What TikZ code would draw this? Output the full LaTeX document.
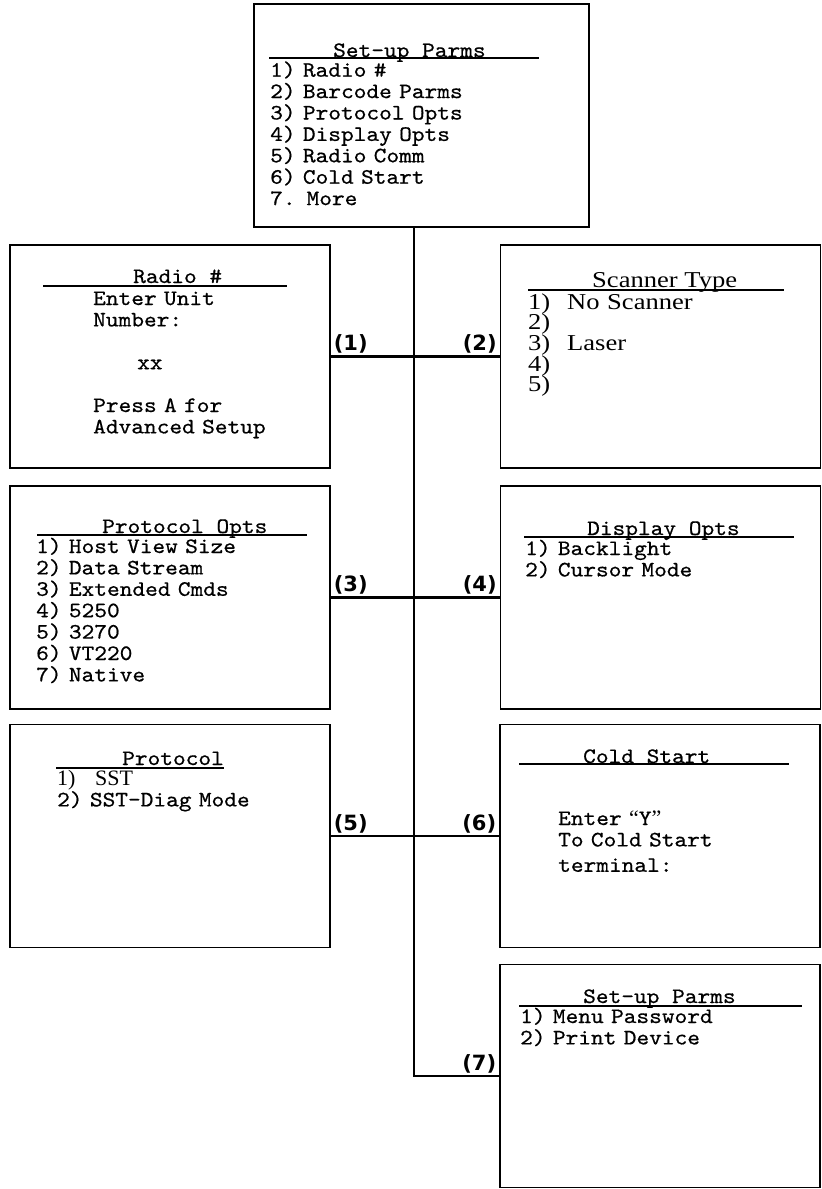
\documentclass[tikz,border=0pt]{standalone}
\usepackage{fontspec}
\newfontfamily\scrfont{lmmono10-regular.otf}[FakeStretch=1.1, FakeBold=0.6]
\newfontfamily\serfont{Liberation Serif}
\newfontfamily\widefont[FakeStretch=1.17]{Liberation Serif}
\newfontfamily\lblfont{DejaVu Sans}
\usepackage{tikz}

\begin{document}
\begin{tikzpicture}[
	x=1pt, y=-1pt,
	screen/.style={draw, line width=1.5pt, minimum width=320pt, minimum height=223pt, inner sep=0pt},
	head/.style={anchor=base west, inner sep=0pt, font=\scrfont\fontsize{22}{21.4}\selectfont},
	lines/.style={anchor=base west, inner sep=0pt, align=left, text width=260pt, font=\scrfont\fontsize{22}{21.4}\selectfont},
	uline/.style={line width=1.8pt},
	link/.style={line width=2.2pt},
	num/.style={font=\lblfont\bfseries\fontsize{21}{22}\selectfont, inner sep=2pt}
]
\useasboundingbox (0,0) rectangle (822,1189);

% screens
\node[screen, minimum width=335pt] (setup) at (421.5,115.5) {};
\node[screen] (radio) at (170,356.5) {};
\node[screen] (scanner) at (660.5,356.5) {};
\node[screen] (protopts) at (170,597.5) {};
\node[screen] (display) at (660.5,597.5) {};
\node[screen] (proto) at (170,836) {};
\node[screen] (cold) at (660,836) {};
\node[screen] (setupb) at (660,1076) {};

% main menu
\node[head] (setupt) at (333,57) {Set-up Parms};
\draw[uline] (269,58) -- (539,58);
\node[lines] (setupl) at (270,76.7) {1) Radio \#\\2) Barcode Parms\\3) Protocol Opts\\4) Display Opts\\5) Radio Comm\\6) Cold Start\\7. More};

% left column
\node[head] (radiot) at (133,283) {Radio \#};
\draw[uline] (43,286) -- (287,286);
\node[lines] (radiol) at (93,305) {Enter Unit\\Number:\\[21.4pt]\hspace*{44pt}xx\\[21.4pt]Press A for\\Advanced Setup};

\node[head] (optst) at (102,533) {Protocol Opts};
\draw[uline] (37,535) -- (307,535);
\node[lines] (optsl) at (36,553) {1) Host View Size\\2) Data Stream\\3) Extended Cmds\\4) 5250\\5) 3270\\6) VT220\\7) Native};

\node[head] (protot) at (122,765) {Protocol};
\draw[uline] (56,768) -- (224,768);
\node[lines] (protol) at (57,785) {{\serfont\fontsize{22}{21.4}\selectfont\makebox[38pt][l]{1)}SST}\\2) SST-Diag Mode};

% right column
\node[head, font=\widefont\fontsize{22.7}{20.7}\selectfont] (scant) at (592,287) {Scanner Type};
\draw[uline] (528,290) -- (784,290);
\node[lines, font=\widefont\fontsize{22.7}{20.7}\selectfont] (scanl) at (528,309) {\makebox[39pt][l]{1)}No Scanner\\2)\\\makebox[39pt][l]{3)}Laser\\4)\\5)};

\node[head] (dispt) at (587,535) {Display Opts};
\draw[uline] (524,537) -- (794,537);
\node[lines] (displ) at (525,555) {1) Backlight\\2) Cursor Mode};

\node[head] (coldt) at (583,763) {Cold Start};
\draw[uline] (519,764) -- (789,764);
\node[lines] (coldl) at (558,825) {Enter {\serfont“}Y{\serfont”}\\To Cold Start\\[4pt]terminal:};

\node[head] (setupbt) at (583,1003) {Set-up Parms};
\draw[uline] (519,1006) -- (802,1006);
\node[lines] (setupbl) at (520,1023) {1) Menu Password\\2) Print Device};

% connectors
\coordinate (trunk) at (414,0);
\draw[link] (radio.east) -- (scanner.west) node[num, pos=0, above right] {(1)} node[num, pos=1, above left] {(2)};
\draw[link] (protopts.east) -- (display.west) node[num, pos=0, above right] {(3)} node[num, pos=1, above left] {(4)};
\draw[link] (proto.east) -- (cold.west) node[num, pos=0, above right] {(5)} node[num, pos=1, above left] {(6)};
\draw[link] (setup.south -| trunk) |- (setupb.west) node[num, pos=1, above left] {(7)};
\end{tikzpicture}
\end{document}
